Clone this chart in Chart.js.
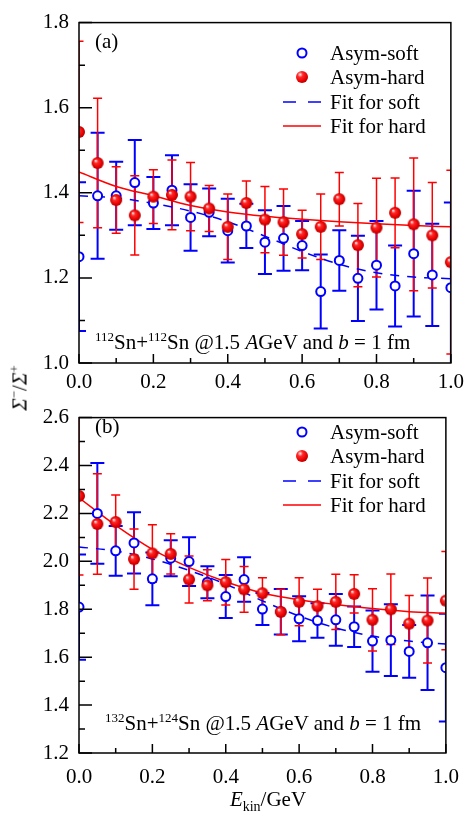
<!DOCTYPE html>
<html>
<head>
<meta charset="utf-8">
<script src="https://cdn.jsdelivr.net/npm/chart.js@4.4.1/dist/chart.umd.min.js"></script>
<style>
  body { margin: 0; background: #fff; }
  #page { position: relative; width: 471px; height: 813px; overflow: hidden; font-family: "Liberation Serif", "Times New Roman", serif; color: #000; }
  .wrap { position: absolute; left: 0; width: 471px; }
  .txt { position: absolute; white-space: nowrap; font-size: 21px; line-height: 24px; }
  .sup { font-size: 13px; position: relative; top: -8px; }
  .sub { font-size: 14px; position: relative; top: 5px; }
  .row { position: absolute; left: 280px; height: 24px; width: 190px; }
  .row svg { position: absolute; left: 0; top: 0; }
  .row span { position: absolute; left: 50px; top: 0; font-size: 21px; line-height: 24px; white-space: nowrap; }
</style>
</head>
<body>
<div id="page">
  <div class="wrap" style="top:0;height:395px"><canvas id="chartA"></canvas></div>
  <div class="wrap" style="top:395px;height:418px"><canvas id="chartB"></canvas></div>

  <div class="txt" style="left:95px;top:29px">(a)</div>
  <div class="txt" style="left:95px;top:414px">(b)</div>

  <div class="txt" style="left:95px;top:330px"><span class="sup">112</span>Sn+<span class="sup">112</span>Sn @1.5 <i>A</i>GeV and <i>b</i> = 1 fm</div>
  <div class="txt" style="left:105px;top:711px"><span class="sup">132</span>Sn+<span class="sup">124</span>Sn @1.5 <i>A</i>GeV and <i>b</i> = 1 fm</div>

  <div class="txt" style="left:21px;top:388px;transform:translate(-50%,-50%) rotate(-90deg)"><i>Σ</i><span class="sup">−</span>/<i>Σ</i><span class="sup">+</span></div>
  <div class="txt" style="left:268px;top:800px;transform:translate(-50%,-50%)"><i>E</i><span class="sub">kin</span>/GeV</div>

  <div id="legendA"></div>
  <div id="legendB"></div>
</div>

<script>
// kinetic energy bins (GeV)
const energies = [0, 0.05, 0.1, 0.15, 0.2, 0.25, 0.3, 0.35, 0.4, 0.45, 0.5,
                  0.55, 0.6, 0.65, 0.7, 0.75, 0.8, 0.85, 0.9, 0.95, 1.0];
const fitX = [0, 0.1, 0.2, 0.3, 0.4, 0.5, 0.6, 0.7, 0.8, 0.9, 1.0];

// (a) 112Sn+112Sn
const softA = [1.25, 1.393, 1.393, 1.424, 1.376, 1.406, 1.342, 1.354, 1.311, 1.322, 1.284,
               1.293, 1.276, 1.168, 1.241, 1.199, 1.23, 1.181, 1.257, 1.207, 1.177];
const softAErr = [0.175, 0.148, 0.08, 0.1, 0.061, 0.082, 0.078, 0.056, 0.075, 0.052, 0.075,
                  0.076, 0.058, 0.087, 0.071, 0.1, 0.104, 0.095, 0.148, 0.12, 0.2];
const hardA = [1.543, 1.47, 1.383, 1.347, 1.391, 1.395, 1.391, 1.363, 1.32, 1.376, 1.337,
               1.331, 1.303, 1.32, 1.385, 1.277, 1.318, 1.353, 1.326, 1.3, 1.237];
const hardAErr = [0.213, 0.152, 0.078, 0.093, 0.063, 0.082, 0.08, 0.054, 0.077, 0.052, 0.078,
                  0.078, 0.056, 0.077, 0.063, 0.098, 0.116, 0.082, 0.156, 0.124, 0.216];
const fitSoftA = [1.393, 1.388, 1.375, 1.357, 1.332, 1.298, 1.262, 1.232, 1.212, 1.202, 1.198];
const fitHardA = [1.449, 1.415, 1.393, 1.37, 1.355, 1.345, 1.338, 1.332, 1.327, 1.323, 1.32];

// (b) 132Sn+124Sn
const softB = [1.809, 2.2, 2.044, 2.077, 1.927, 2.013, 1.999, 1.913, 1.853, 1.924, 1.801,
               1.79, 1.76, 1.753, 1.756, 1.727, 1.667, 1.671, 1.624, 1.66, 1.556];
const softBErr = [0.22, 0.21, 0.104, 0.128, 0.11, 0.075, 0.102, 0.067, 0.09, 0.093, 0.067,
                  0.095, 0.094, 0.072, 0.108, 0.085, 0.128, 0.15, 0.11, 0.197, 0.225];
const hardB = [2.273, 2.156, 2.164, 2.009, 2.033, 2.031, 1.924, 1.9, 1.913, 1.883, 1.867,
               1.789, 1.831, 1.813, 1.831, 1.864, 1.756, 1.8, 1.74, 1.753, 1.836];
const hardBErr = [0.33, 0.21, 0.113, 0.126, 0.12, 0.084, 0.098, 0.065, 0.095, 0.095, 0.065,
                  0.095, 0.1, 0.071, 0.115, 0.08, 0.13, 0.147, 0.117, 0.177, 0.205];
const fitSoftB = [2.06, 2.043, 2.01, 1.962, 1.905, 1.835, 1.772, 1.722, 1.688, 1.667, 1.655];
const fitHardB = [2.265, 2.15, 2.05, 1.975, 1.915, 1.868, 1.84, 1.82, 1.803, 1.79, 1.783];

const legendLabels = ['Asym-soft', 'Asym-hard', 'Fit for soft', 'Fit for hard'];

const BLUE = '#0000ff';
const RED = '#ff0000';
const FONT = '"Liberation Serif", "Times New Roman", serif';

Chart.defaults.font.family = FONT;
Chart.defaults.color = '#000';

function pts(xs, ys) {
  return xs.map((x, i) => ({ x: x, y: ys[i] }));
}

// shaded red ball used as point style
function makeBall(r) {
  const s = 2 * r + 2;
  const c = document.createElement('canvas');
  c.width = s; c.height = s;
  const g = c.getContext('2d');
  const cx = s / 2, cy = s / 2;
  const grad = g.createRadialGradient(cx - r * 0.35, cy - r * 0.4, r * 0.05, cx, cy, r);
  grad.addColorStop(0, '#fff0f0');
  grad.addColorStop(0.3, '#ff2a2a');
  grad.addColorStop(0.75, '#e80000');
  grad.addColorStop(1, '#b00000');
  g.fillStyle = grad;
  g.beginPath();
  g.arc(cx, cy, r, 0, Math.PI * 2);
  g.fill();
  return c;
}
const ball = makeBall(6);

function isMajor(v) {
  return Math.round(v * 10) % 2 === 0;
}

// vertical error bars with caps, under the markers
const errorBars = {
  id: 'errorBars',
  beforeDatasetsDraw(chart) {
    const { ctx, chartArea: a, scales: { x, y } } = chart;
    ctx.save();
    ctx.beginPath();
    ctx.rect(a.left, a.top, a.right - a.left, a.bottom - a.top);
    ctx.clip();
    chart.data.datasets.slice().reverse().forEach(ds => {
      if (!ds.errors) return;
      ctx.strokeStyle = ds.errColor;
      ctx.lineWidth = ds.errWidth;
      ds.data.forEach((p, i) => {
        const px = x.getPixelForValue(p.x);
        const top = y.getPixelForValue(p.y + ds.errors[i]);
        const bot = y.getPixelForValue(p.y - ds.errors[i]);
        ctx.beginPath();
        ctx.moveTo(px, top); ctx.lineTo(px, bot);
        ctx.moveTo(px - ds.cap, top); ctx.lineTo(px + ds.cap, top);
        ctx.moveTo(px - ds.cap, bot); ctx.lineTo(px + ds.cap, bot);
        ctx.stroke();
      });
    });
    ctx.restore();
  }
};

// box frame and inward ticks on left/bottom
const frame = {
  id: 'frame',
  afterDatasetsDraw(chart) {
    const { ctx, chartArea: a, scales: { x, y } } = chart;
    ctx.save();
    ctx.strokeStyle = '#000';
    ctx.lineWidth = 1.5;
    ctx.beginPath();
    y.ticks.forEach(t => {
      const py = y.getPixelForValue(t.value);
      ctx.moveTo(a.left, py);
      ctx.lineTo(a.left + (isMajor(t.value) ? 13 : 6), py);
    });
    x.ticks.forEach(t => {
      const px = x.getPixelForValue(t.value);
      ctx.moveTo(px, a.bottom);
      ctx.lineTo(px, a.bottom - (isMajor(t.value) ? 9 : 5));
    });
    ctx.stroke();
    ctx.strokeRect(a.left, a.top, a.right - a.left, a.bottom - a.top);
    ctx.restore();
  }
};

function makeChart(id, soft, softErr, hard, hardErr, fitSoft, fitHard, yMin, yMax, padTop, xHeight, xPad) {
  return new Chart(document.getElementById(id), {
    type: 'scatter',
    data: {
      datasets: [
        { label: 'Asym-hard', data: pts(energies, hard), errors: hardErr,
          errColor: RED, errWidth: 1.5, cap: 4.5,
          pointStyle: ball, pointRadius: 6, borderColor: RED, clip: 0 },
        { label: 'Asym-soft', data: pts(energies, soft), errors: softErr,
          errColor: BLUE, errWidth: 2, cap: 7,
          pointStyle: 'circle', pointRadius: 4.5, borderWidth: 2,
          borderColor: BLUE, backgroundColor: '#fff', clip: 0 },
        { label: 'Fit for hard', data: pts(fitX, fitHard), showLine: true,
          pointRadius: 0, borderColor: RED, borderWidth: 1.5,
          cubicInterpolationMode: 'monotone', clip: 0 },
        { label: 'Fit for soft', data: pts(fitX, fitSoft), showLine: true,
          pointRadius: 0, borderColor: BLUE, borderWidth: 1.5, borderDash: [9, 8],
          cubicInterpolationMode: 'monotone', clip: 0 }
      ]
    },
    options: {
      responsive: true,
      maintainAspectRatio: false,
      animation: false,
      devicePixelRatio: 1,
      layout: { padding: { top: padTop, right: 13, left: 0, bottom: 0 } },
      plugins: { legend: { display: false }, tooltip: { enabled: false } },
      scales: {
        x: {
          type: 'linear', min: 0, max: 1,
          grid: { display: false, drawTicks: false },
          border: { display: false },
          ticks: {
            stepSize: 0.1, autoSkip: false, maxRotation: 0, padding: xPad,
            color: '#000', font: { family: FONT, size: 21 },
            callback: v => isMajor(v) ? v.toFixed(1) : ''
          },
          afterFit: s => { s.height = xHeight; }
        },
        y: {
          type: 'linear', min: yMin, max: yMax,
          grid: { display: false, drawTicks: false },
          border: { display: false },
          ticks: {
            stepSize: 0.1, autoSkip: false, padding: 10,
            color: '#000', font: { family: FONT, size: 21 },
            callback: v => isMajor(v) ? v.toFixed(1) : ''
          },
          afterFit: s => { s.width = 79; }
        }
      }
    },
    plugins: [errorBars, frame]
  });
}

makeChart('chartA', softA, softAErr, hardA, hardAErr, fitSoftA, fitHardA, 1.0, 1.8, 16, 32, 7);
makeChart('chartB', softB, softBErr, hardB, hardBErr, fitSoftB, fitHardB, 1.2, 2.6, 10, 60, 12);

// legend rows (HTML overlay)
function legendSvg(kind) {
  if (kind === 0) return '<svg width="44" height="24"><circle cx="22" cy="12" r="4.5" fill="#fff" stroke="' + BLUE + '" stroke-width="2"/></svg>';
  if (kind === 1) return '<svg width="44" height="24"><defs><radialGradient id="bg" cx="0.35" cy="0.3" r="0.75"><stop offset="0" stop-color="#fff0f0"/><stop offset="0.3" stop-color="#ff2a2a"/><stop offset="0.75" stop-color="#e80000"/><stop offset="1" stop-color="#b00000"/></radialGradient></defs><circle cx="22" cy="12" r="6" fill="url(#bg)"/></svg>';
  if (kind === 2) return '<svg width="44" height="24"><line x1="3" y1="12" x2="41" y2="12" stroke="' + BLUE + '" stroke-width="1.5" stroke-dasharray="13,12"/></svg>';
  return '<svg width="44" height="24"><line x1="3" y1="12" x2="41" y2="12" stroke="' + RED + '" stroke-width="1.5"/></svg>';
}

function buildLegend(id, firstCenter) {
  const box = document.getElementById(id);
  legendLabels.forEach((label, i) => {
    const row = document.createElement('div');
    row.className = 'row';
    row.style.top = (firstCenter + i * 24.3 - 12) + 'px';
    row.innerHTML = legendSvg(i) + '<span>' + label + '</span>';
    box.appendChild(row);
  });
}
buildLegend('legendA', 53);
buildLegend('legendB', 432);
</script>
</body>
</html>
